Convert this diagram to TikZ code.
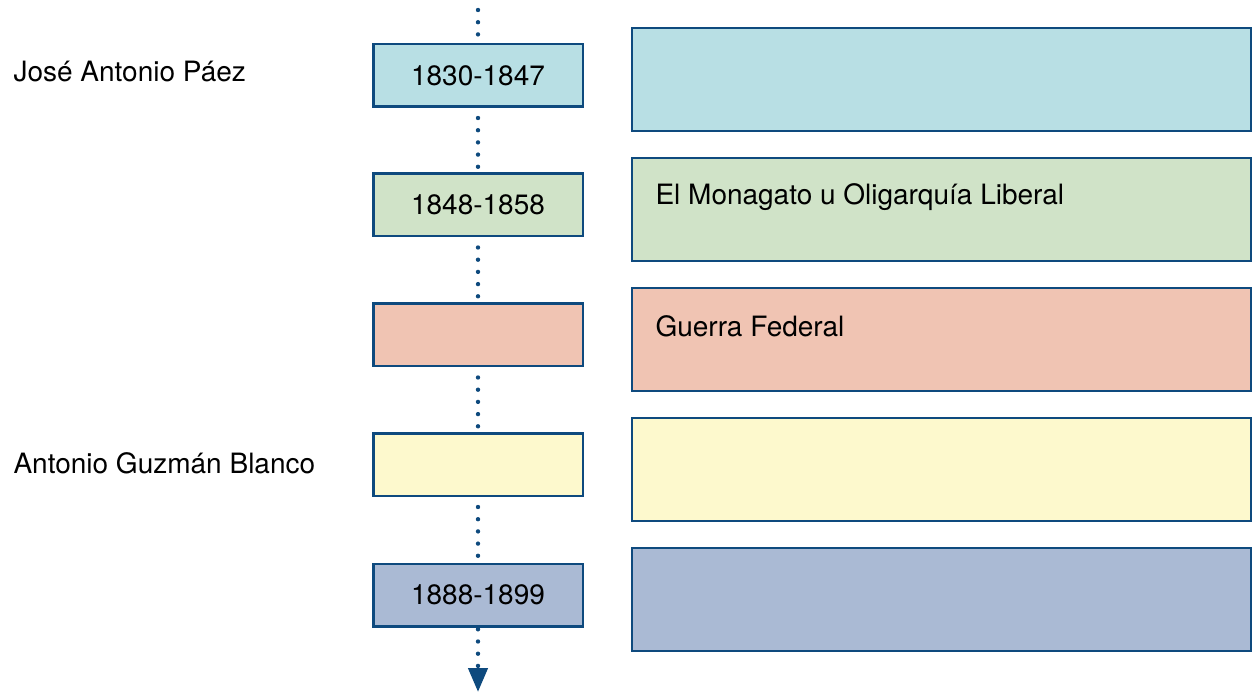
\documentclass[tikz,border=0pt]{standalone}
\usepackage{fontspec}
\setmainfont{TeX Gyre Heros}
\usetikzlibrary{arrows.meta}
\definecolor{edge}{HTML}{0E4A7E}
\definecolor{cA}{HTML}{B8DFE4}
\definecolor{cB}{HTML}{D0E3C8}
\definecolor{cC}{HTML}{F0C4B3}
\definecolor{cD}{HTML}{FDF9CD}
\definecolor{cE}{HTML}{AABAD4}
\begin{document}
\begin{tikzpicture}[x=1pt,y=-1pt,font=\fontsize{28}{34}\selectfont,
yr/.style={draw=edge,line width=2.5pt,minimum width=209.5pt,minimum height=62.5pt,inner sep=0pt},
ev/.style={draw=edge,line width=2.5pt,minimum width=619pt,minimum height=103pt,inner sep=0pt},
dots/.style={edge,line width=4.4pt,line cap=round,dash pattern=on 0pt off 12.2pt,dash phase=2.2}]
\useasboundingbox (0,0) rectangle (1253,692);
\node[yr,fill=cA](yr1) at(478,75.5){1830-1847};
\node[yr,fill=cB](yr2) at(478,205){1848-1858};
\node[yr,fill=cC](yr3) at(478,335){};
\node[yr,fill=cD](yr4) at(478,464.5){};
\node[yr,fill=cE](yr5) at(478,595){1888-1899};
\node[ev,fill=cA](ev1) at(941.5,79.5){};
\node[ev,fill=cB](ev2) at(941.5,209.5){};
\node[ev,fill=cC](ev3) at(941.5,339.5){};
\node[ev,fill=cD](ev4) at(941.5,469.5){};
\node[ev,fill=cE](ev5) at(941.5,599.5){};
\node[anchor=base west](paez) at(10,82){José Antonio Páez};
\node[anchor=base west](guzman) at(10,473){Antonio Guzmán Blanco};
\node[anchor=base west](monagato) at(652,205){El Monagato u Oligarquía Liberal};
\node[anchor=base west](guerra) at(652,337){Guerra Federal};
\coordinate(top) at(478,0);\coordinate(bot) at(478,692);
\draw[dots](top)--(yr1);\draw[dots](yr1)--(yr2);\draw[dots](yr2)--(yr3);
\draw[dots](yr3)--(yr4);\draw[dots](yr4)--(yr5);
\draw[dots,dash phase=10.4,-{Triangle[width=19pt,length=24pt]}](yr5)--(bot);
\end{tikzpicture}
\end{document}
